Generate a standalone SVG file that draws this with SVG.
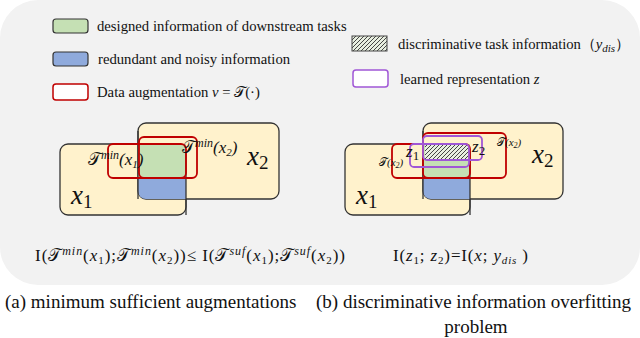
<svg xmlns="http://www.w3.org/2000/svg" width="640" height="338" viewBox="0 0 640 338">
<defs>
<pattern id="hatch" patternUnits="userSpaceOnUse" width="4" height="4">
<rect width="4" height="4" fill="#e8efe0"/>
<path d="M-1,1 L1,-1 M0,4 L4,0 M3,5 L5,3" stroke="#333" stroke-width="0.9"/>
</pattern>
<clipPath id="clipA2"><rect x="138" y="123" width="141" height="76" rx="8"/></clipPath>
<clipPath id="clipB2"><rect x="423" y="123" width="140" height="76" rx="8"/></clipPath>
</defs>
<style>
.txt{font-family:"Liberation Serif","Times New Roman",serif;fill:#111}
.leg{font-size:14.7px}
.math{font-family:"Liberation Serif","DejaVu Serif",serif;font-style:italic;fill:#111}
.scr{font-family:"DejaVu Sans","Noto Sans",serif;font-style:normal}
.box{fill:#fff2cc;stroke:#333;stroke-width:1.3}
.red{fill:none;stroke:#c00000;stroke-width:1.8}
.pur{fill:none;stroke:#a057d6;stroke-width:1.8}
.cap{font-size:19px}
.big{font-size:27px}
</style>
<rect x="0" y="0" width="640" height="285" rx="38" fill="#f2f2f2"/>

<g id="legend">
<rect x="53" y="19" width="35" height="14" rx="3" fill="#c5e0b4" stroke="#333" stroke-width="1.2"/>
<text class="txt leg" x="97" y="31">designed information of downstream tasks</text>
<rect x="53" y="52" width="35" height="14" rx="3" fill="#8faadc" stroke="#333" stroke-width="1.2"/>
<text class="txt leg" x="98" y="64">redundant and noisy information</text>
<rect x="53" y="84" width="35" height="16" rx="3" fill="#fff" stroke="#c00000" stroke-width="1.5"/>
<text class="txt leg" x="97" y="97">Data augmentation <tspan class="math">v</tspan> = <tspan class="scr">𝒯</tspan>(·)</text>
<rect x="352" y="36" width="35" height="15" fill="url(#hatch)" stroke="#444" stroke-width="1"/>
<text class="txt leg" x="398" y="49" textLength="232" lengthAdjust="spacing">discriminative task information（<tspan class="math">y</tspan><tspan class="math" font-size="11" dy="3">dis</tspan><tspan dy="-3">）</tspan></text>
<rect x="353" y="70" width="35" height="17" rx="3" fill="#fff" stroke="#a057d6" stroke-width="1.5"/>
<text class="txt leg" x="400" y="84">learned representation <tspan class="math">z</tspan></text>
</g>

<g id="diagram-a">
<rect class="box" x="60" y="144" width="126" height="71" rx="8"/>
<rect class="box" x="138" y="123" width="141" height="76" rx="8"/>
<g clip-path="url(#clipA2)">
<rect x="138" y="144" width="48" height="34" fill="#c5e0b4"/>
<rect x="138" y="178" width="48" height="22" fill="#8faadc"/>
</g>
<path d="M186,152 L186,215" stroke="#333" stroke-width="1.3" fill="none"/>
<path d="M138,131 L138,199" stroke="#333" stroke-width="1.3" fill="none"/>
<rect class="red" x="108" y="144" width="78" height="34" rx="5"/>
<rect class="red" x="139" y="137" width="58" height="41" rx="5"/>
<text class="math" x="88" y="165" font-size="17"><tspan class="scr">𝒯</tspan><tspan font-size="12" dy="-6">min</tspan><tspan dy="6">(x</tspan><tspan font-size="11" dy="3">1</tspan><tspan dy="-3">)</tspan></text>
<text class="math" x="182" y="153" font-size="17"><tspan class="scr">𝒯</tspan><tspan font-size="12" dy="-6">min</tspan><tspan dy="6">(x</tspan><tspan font-size="11" dy="3">2</tspan><tspan dy="-3">)</tspan></text>
<text class="math big" x="247" y="165">x<tspan font-size="19" dy="4" font-style="normal">2</tspan></text>
<text class="math big" x="71" y="204">x<tspan font-size="19" dy="4" font-style="normal">1</tspan></text>
</g>

<g id="diagram-b">
<rect class="box" x="345" y="144" width="125" height="71" rx="8"/>
<rect class="box" x="423" y="123" width="140" height="76" rx="8"/>
<g clip-path="url(#clipB2)">
<rect x="423" y="144" width="47" height="34" fill="#c5e0b4"/>
<rect x="425" y="145" width="44" height="14" fill="url(#hatch)"/>
<rect x="423" y="178" width="47" height="22" fill="#8faadc"/>
</g>
<path d="M470,152 L470,215" stroke="#333" stroke-width="1.3" fill="none"/>
<path d="M423,131 L423,199" stroke="#333" stroke-width="1.3" fill="none"/>
<rect class="red" x="392" y="144" width="78" height="34" rx="5"/>
<rect class="red" x="423" y="133" width="83" height="45" rx="5"/>
<rect class="pur" x="410" y="144" width="59" height="23" rx="4"/>
<rect class="pur" x="423" y="136" width="59" height="24" rx="4"/>
<text class="math" x="406" y="157" font-size="17">z<tspan font-size="13" dy="3" font-style="normal">1</tspan></text>
<text class="math" x="472" y="152" font-size="17">z<tspan font-size="13" dy="3" font-style="normal">2</tspan></text>
<text class="math" x="497" y="146" font-size="11"><tspan class="scr">𝒯</tspan>(x<tspan font-size="8" dy="2">2</tspan><tspan dy="-2">)</tspan></text>
<text class="math" x="379" y="166" font-size="11"><tspan class="scr">𝒯</tspan>(x<tspan font-size="8" dy="2">2</tspan><tspan dy="-2">)</tspan></text>
<text class="math big" x="532" y="163">x<tspan font-size="19" dy="4" font-style="normal">2</tspan></text>
<text class="math big" x="356" y="204">x<tspan font-size="19" dy="4" font-style="normal">1</tspan></text>
</g>

<g id="formulas">
<text class="txt" x="35" y="261" font-size="17" textLength="310" lengthAdjust="spacing">I(<tspan class="scr">𝒯</tspan><tspan class="math" font-size="12" dy="-6">min</tspan><tspan dy="6">(</tspan><tspan class="math">x</tspan><tspan font-size="11" dy="3">1</tspan><tspan dy="-3">);</tspan><tspan class="scr">𝒯</tspan><tspan class="math" font-size="12" dy="-6">min</tspan><tspan dy="6">(</tspan><tspan class="math">x</tspan><tspan font-size="11" dy="3">2</tspan><tspan dy="-3">))≤ I(</tspan><tspan class="scr">𝒯</tspan><tspan class="math" font-size="12" dy="-6">suf</tspan><tspan dy="6">(</tspan><tspan class="math">x</tspan><tspan font-size="11" dy="3">1</tspan><tspan dy="-3">);</tspan><tspan class="scr">𝒯</tspan><tspan class="math" font-size="12" dy="-6">suf</tspan><tspan dy="6">(</tspan><tspan class="math">x</tspan><tspan font-size="11" dy="3">2</tspan><tspan dy="-3">))</tspan></text>
<text class="txt" x="393" y="261" font-size="17" textLength="135" lengthAdjust="spacing">I(<tspan class="math">z</tspan><tspan font-size="11" dy="3">1</tspan><tspan dy="-3">; </tspan><tspan class="math">z</tspan><tspan font-size="11" dy="3">2</tspan><tspan dy="-3">)=I(</tspan><tspan class="math">x</tspan>; <tspan class="math">y</tspan><tspan class="math" font-size="11" dy="3">dis</tspan><tspan dy="-3"> )</tspan></text>
</g>

<g id="captions">
<text class="txt cap" x="5" y="308">(a) minimum sufficient augmentations</text>
<text class="txt cap" x="316" y="308">(b) discriminative information overfitting</text>
<text class="txt cap" x="476" y="333" text-anchor="middle">problem</text>
</g>
</svg>
